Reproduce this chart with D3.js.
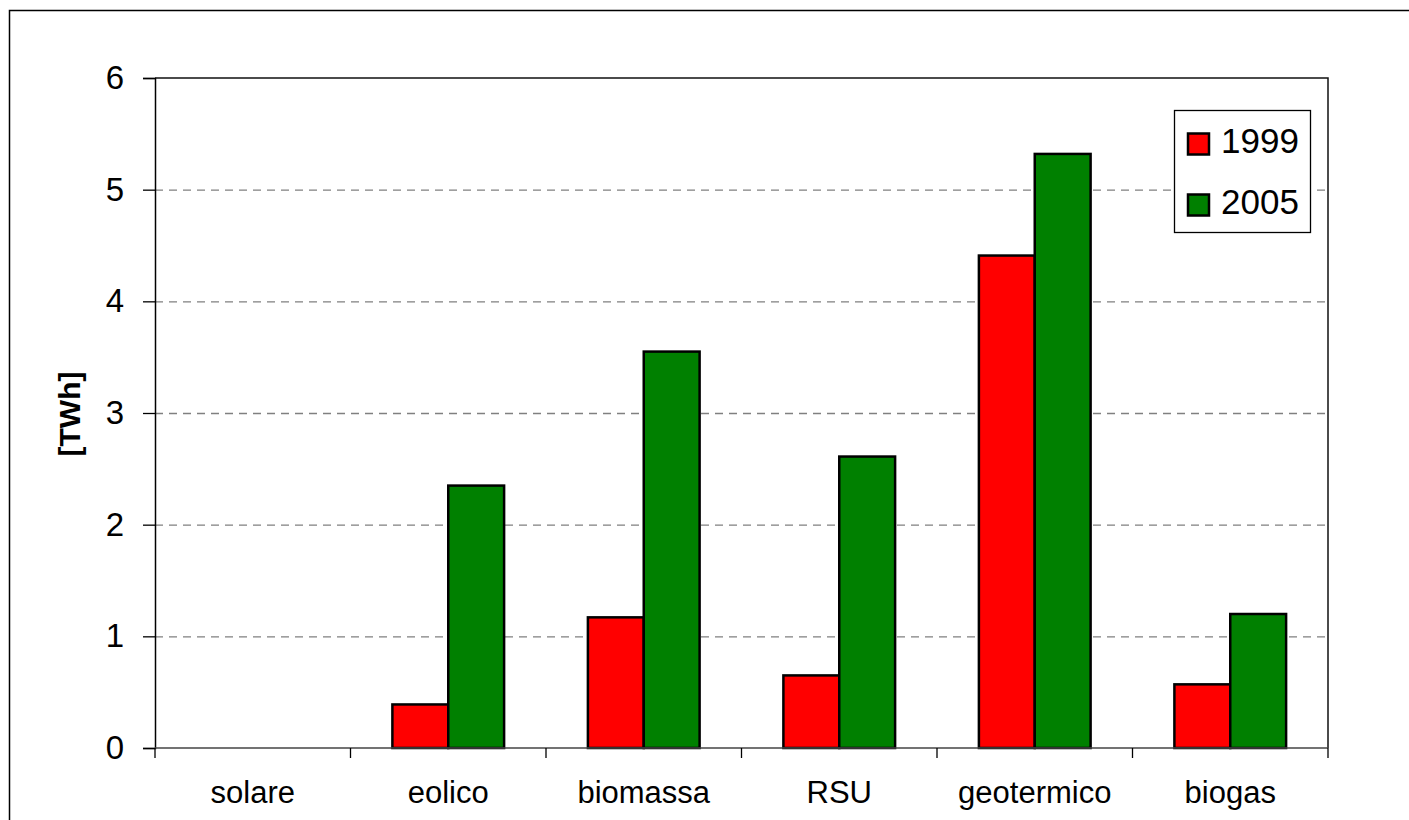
<!DOCTYPE html>
<html>
<head>
<meta charset="utf-8">
<script src="https://cdn.jsdelivr.net/npm/d3@7"></script>
<style>
  html, body { margin: 0; padding: 0; background: #fff; }
  svg { display: block; font-family: "Liberation Sans", Arial, sans-serif; }
</style>
</head>
<body>
<svg id="chart" width="1409" height="820"></svg>
<script>
// Electricity from renewable sources, TWh
const categories = ["solare", "eolico", "biomassa", "RSU", "geotermico", "biogas"];
const seriesNames = ["1999", "2005"];
const values1999 = [0, 0.39, 1.17, 0.65, 4.41, 0.57];
const values2005 = [0, 2.35, 3.55, 2.61, 5.32, 1.20];
const yTicks = [0, 1, 2, 3, 4, 5, 6];
const colors = ["#FF0000", "#008000"];

const svg = d3.select("#chart");
const plot = { left: 155, right: 1328, top: 78, bottom: 748 };

// outer chart frame (extends past the window on the right and bottom)
svg.append("rect")
  .attr("x", 9.5).attr("y", 10.5)
  .attr("width", 1460).attr("height", 900)
  .attr("fill", "none").attr("stroke", "#000").attr("stroke-width", 1.5);

const x0 = d3.scaleBand().domain(categories).range([plot.left, plot.right]).padding(0);
const x1 = d3.scaleBand().domain(seriesNames).range([0, x0.bandwidth()])
  .paddingInner(0).paddingOuter(0.75);
const y = d3.scaleLinear().domain([0, 6]).range([plot.bottom, plot.top]);

// dashed gridlines
svg.append("g").selectAll("line")
  .data(yTicks.filter(t => t > 0 && t < 6))
  .join("line")
  .attr("x1", plot.left).attr("x2", plot.right)
  .attr("y1", d => y(d) + 0.5).attr("y2", d => y(d) + 0.5)
  .attr("stroke", "#808080").attr("stroke-width", 1.3)
  .attr("stroke-dasharray", "8,6");

// plot area border (top and right)
svg.append("path")
  .attr("d", `M${plot.left},${y(6)}H${plot.right}V${plot.bottom}`)
  .attr("fill", "none").attr("stroke", "#111").attr("stroke-width", 1.5);

// bars
const rows = categories.map((c, i) => ({ cat: c, vals: [values1999[i], values2005[i]] }));
const groups = svg.append("g").selectAll("g")
  .data(rows).join("g")
  .attr("transform", d => `translate(${x0(d.cat)},0)`);
groups.selectAll("rect")
  .data(d => d.vals.map((v, j) => ({ key: seriesNames[j], v, j })).filter(e => e.v > 0))
  .join("rect")
  .attr("x", d => x1(d.key))
  .attr("y", d => y(d.v))
  .attr("width", x1.bandwidth())
  .attr("height", d => y(0) - y(d.v))
  .attr("fill", d => colors[d.j])
  .attr("stroke", "#000").attr("stroke-width", 2.5);

// y axis
const yAxis = svg.append("g")
  .attr("transform", `translate(${plot.left},0)`)
  .call(d3.axisLeft(y).tickValues(yTicks).tickSize(12).tickPadding(19).tickFormat(d3.format("d")));
yAxis.select(".domain").attr("stroke", "#000").attr("stroke-width", 1.5);
yAxis.selectAll(".tick line").attr("stroke", "#000").attr("stroke-width", 1.3);
yAxis.selectAll(".tick text")
  .attr("font-size", 33).attr("fill", "#000")
  .attr("font-family", "Liberation Sans, Arial, sans-serif");

// x axis baseline, boundary ticks and category labels
const xg = svg.append("g");
xg.append("line")
  .attr("x1", plot.left).attr("x2", plot.right)
  .attr("y1", plot.bottom).attr("y2", plot.bottom)
  .attr("stroke", "#444").attr("stroke-width", 1.5);
const edges = categories.map(c => x0(c)).concat([x0.range()[1]]);
xg.selectAll("line.tk").data(edges).join("line")
  .attr("class", "tk")
  .attr("x1", d => d).attr("x2", d => d)
  .attr("y1", plot.bottom).attr("y2", plot.bottom + 10)
  .attr("stroke", "#000").attr("stroke-width", 1.3);
xg.selectAll("text").data(categories).join("text")
  .attr("x", d => x0(d) + x0.bandwidth() / 2)
  .attr("y", 803)
  .attr("text-anchor", "middle")
  .attr("font-size", 31)
  .attr("fill", "#000")
  .text(d => d);

// y axis title
svg.append("text")
  .attr("transform", "translate(80,414) rotate(-90)")
  .attr("text-anchor", "middle")
  .attr("font-size", 30).attr("font-weight", "bold")
  .text("[TWh]");

// legend
const lg = svg.append("g");
lg.append("rect")
  .attr("x", 1174.5).attr("y", 110.5).attr("width", 136).attr("height", 122)
  .attr("fill", "#fff").attr("stroke", "#000").attr("stroke-width", 1.3);
const items = lg.selectAll("g").data(seriesNames).join("g")
  .attr("transform", (d, i) => `translate(0,${i * 61})`);
items.append("rect")
  .attr("x", 1188).attr("y", 133.5).attr("width", 21).attr("height", 21)
  .attr("fill", (d, i) => colors[i]).attr("stroke", "#000").attr("stroke-width", 2.5);
items.append("text")
  .attr("x", 1221).attr("y", 153)
  .attr("font-size", 35).attr("fill", "#000")
  .text(d => d);
</script>
</body>
</html>
